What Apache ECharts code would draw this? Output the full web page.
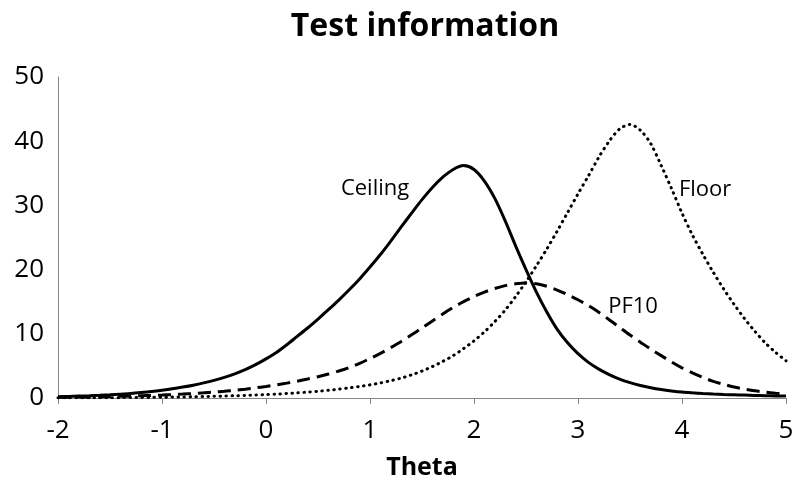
<!DOCTYPE html>
<html>
<head>
<meta charset="utf-8">
<script src="https://cdn.jsdelivr.net/npm/echarts@6/dist/echarts.min.js"></script>
<style>html,body{margin:0;padding:0;background:#fff;}#c{width:800px;height:490px;}</style>
</head>
<body>
<div id="c"></div>
<script>
const theta = [-2.0,-1.9,-1.8,-1.7,-1.6,-1.5,-1.4,-1.3,-1.2,-1.1,-1.0,-0.9,-0.8,-0.7,-0.6,-0.5,-0.4,-0.3,-0.2,-0.1,
  0.0,0.1,0.2,0.3,0.4,0.5,0.6,0.7,0.8,0.9,1.0,1.1,1.2,1.3,1.4,1.5,1.6,1.7,1.8,1.9,
  2.0,2.1,2.2,2.3,2.4,2.5,2.6,2.7,2.8,2.9,3.0,3.1,3.2,3.3,3.4,3.5,3.6,3.7,3.8,3.9,
  4.0,4.1,4.2,4.3,4.4,4.5,4.6,4.7,4.8,4.9,5.0];
const ceiling = [0.2,0.25,0.3,0.35,0.42,0.5,0.6,0.7,0.84,1.0,1.2,1.43,1.7,2.0,2.35,2.75,3.22,3.77,4.42,5.2,
  6.1,7.1,8.3,9.6,10.9,12.3,13.75,15.25,16.85,18.55,20.4,22.35,24.45,26.65,28.8,30.9,32.8,34.4,35.6,36.2,
  35.6,33.8,31.1,27.6,23.7,20.0,16.5,13.4,10.7,8.6,6.9,5.55,4.5,3.65,2.95,2.4,1.95,1.6,1.32,1.1,
  0.92,0.8,0.7,0.62,0.55,0.5,0.45,0.4,0.36,0.32,0.3];
const pf10 = [0.1,0.12,0.14,0.16,0.19,0.22,0.26,0.3,0.35,0.4,0.46,0.53,0.61,0.7,0.8,0.92,1.05,1.2,1.38,1.58,
  1.8,2.05,2.32,2.62,2.95,3.32,3.73,4.2,4.75,5.4,6.15,6.95,7.85,8.8,9.85,10.9,12.0,13.1,14.1,15.0,
  15.8,16.5,17.05,17.5,17.8,17.9,17.8,17.4,16.8,16.1,15.3,14.4,13.35,12.2,11.0,9.8,8.7,7.6,6.6,5.6,
  4.7,3.9,3.2,2.6,2.12,1.72,1.4,1.13,0.92,0.75,0.6];
const floor = [0.02,0.02,0.03,0.03,0.04,0.05,0.06,0.07,0.08,0.1,0.12,0.14,0.16,0.19,0.22,0.26,0.3,0.35,0.4,0.46,
  0.53,0.6,0.7,0.8,0.92,1.05,1.2,1.38,1.58,1.8,2.05,2.35,2.7,3.1,3.6,4.2,4.9,5.7,6.6,7.7,
  8.9,10.3,11.9,13.7,15.8,18.1,20.6,23.2,26.0,28.9,31.8,34.6,37.5,40.0,41.9,42.6,41.7,39.6,36.2,32.6,
  28.8,25.4,22.4,19.6,17.0,14.6,12.4,10.4,8.6,7.1,5.8];
const labelNames = ['Ceiling','Floor','PF10'];
const labelTheta = [0.72,3.97,3.29];
const labelInfo = [32.6,32.4,14.2];
const xTicks = [-2,-1,0,1,2,3,4,5];
const yTicks = [0,10,20,30,40,50];

const pair = (ys) => theta.map((t,i)=>[t,ys[i]]);
const FONT = '"Open Sans", sans-serif';
const chart = echarts.init(document.getElementById('c'), null, {renderer:'canvas'});
chart.setOption({
  animation:false,
  backgroundColor:'#fff',
  title:{text:'Test information',left:420,textAlign:'center',top:6,
    textStyle:{fontFamily:FONT,fontSize:32,fontWeight:'bold',color:'#000'}},
  grid:{left:58,right:14,top:77,bottom:92},
  xAxis:{type:'value',min:xTicks[0],max:xTicks[xTicks.length-1],interval:1,
    name:'Theta',nameLocation:'middle',nameGap:57,
    nameTextStyle:{fontFamily:FONT,fontSize:25,fontWeight:'bold',color:'#000'},
    axisLine:{show:true,onZero:false,lineStyle:{color:'#868686',width:1}},
    axisTick:{show:true,length:6,lineStyle:{color:'#868686'}},
    splitLine:{show:false},
    axisLabel:{fontFamily:FONT,fontSize:26,color:'#000',margin:20}},
  yAxis:{type:'value',min:yTicks[0],max:yTicks[yTicks.length-1],interval:10,
    axisLine:{show:true,onZero:false,lineStyle:{color:'#868686',width:1}},
    axisTick:{show:false},
    splitLine:{show:false},
    axisLabel:{fontFamily:FONT,fontSize:26,color:'#000',margin:14}},
  series:[
    {name:'Floor',type:'line',data:pair(floor),showSymbol:false,smooth:0.3,
      lineStyle:{color:'#000',width:3,type:[0.5,5.5],cap:'round'}},
    {name:'PF10',type:'line',data:pair(pf10),showSymbol:false,smooth:0.3,
      lineStyle:{color:'#000',width:3,type:[13,7],cap:'butt'}},
    {name:'Ceiling',type:'line',data:pair(ceiling),showSymbol:false,smooth:0.3,
      lineStyle:{color:'#000',width:3}},
    {type:'scatter',symbolSize:0,silent:true,itemStyle:{opacity:1,color:'#000'},
      data:labelNames.map((n,i)=>({name:n,value:[labelTheta[i],labelInfo[i]]})),
      label:{show:true,position:'right',distance:0,formatter:'{b}',opacity:1,
        fontFamily:FONT,fontSize:22,color:'#000'}}
  ]
});
</script>
</body>
</html>
